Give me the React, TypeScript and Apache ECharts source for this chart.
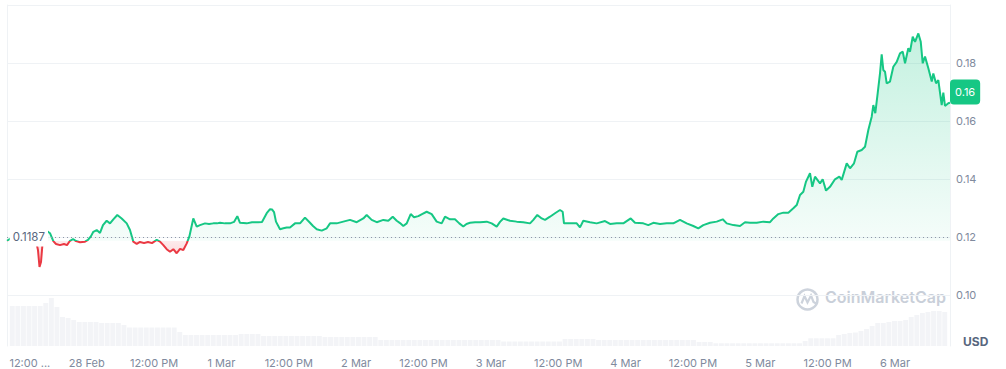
import React, { useEffect, useRef } from 'react';
import * as echarts from 'echarts';

const HOUR = 3600 * 1000;
const START = new Date(2025, 1, 27, 9, 48).getTime();
const END = START + 168 * HOUR;
const FIRST_TICK = new Date(2025, 1, 27, 12, 0).getTime();

const BASE_PRICE = 0.1187;

const X_LABELS = ['12:00 ...', '28 Feb', '12:00 PM', '1 Mar', '12:00 PM', '2 Mar', '12:00 PM', '3 Mar', '12:00 PM', '4 Mar', '12:00 PM', '5 Mar', '12:00 PM', '6 Mar'];

// hours since START
const PRICE_HOURS = [
  0, 0.89, 1.78, 2.67, 3.56, 4.45, 5.17, 5.52, 5.79, 6.06, 6.32, 6.59, 6.89, 7.66, 8.25, 8.73, 9.44, 10.15, 10.69, 11.22,
  11.76, 12.29, 13.01, 13.9, 14.43, 14.97, 15.38, 15.98, 16.57, 17.1, 17.76, 18.35, 18.94, 19.65, 20.43, 21.33, 21.91, 22.5, 23.11, 23.7,
  24.41, 25.12, 25.83, 26.67, 27.26, 27.85, 28.45, 29.04, 29.63, 30.23, 30.82, 31.41, 32.02, 32.48, 33.19, 33.8, 34.38, 35.28, 35.99, 36.75,
  37.41, 37.95, 38.84, 39.73, 40.45, 41.03, 41.51, 42.7, 43.65, 44.72, 45.43, 46.27, 46.86, 47.21, 47.57, 47.92, 48.64, 49.23, 49.83, 50.42,
  51.31, 52.2, 53.09, 53.98, 54.52, 55.18, 56.07, 56.96, 57.55, 58.74, 59.91, 61.11, 62.3, 63.48, 64.08, 64.97, 65.87, 67.04, 67.93, 68.72,
  69.43, 70.02, 70.6, 71.21, 71.92, 72.51, 73.28, 73.94, 74.77, 75.66, 76.55, 77.44, 78.03, 78.92, 79.81, 80.58, 81.29, 81.86, 82.49, 83.38,
  84.27, 85.46, 86.35, 87.24, 87.83, 88.42, 89.61, 90.8, 91.98, 93.18, 93.77, 94.48, 95.26, 95.85, 96.74, 97.63, 98.52, 99.0, 99.23, 100.3,
  101.5, 102.08, 102.67, 103.87, 105.06, 106.54, 107.43, 108.62, 109.8, 111.12, 111.88, 113.36, 114.25, 115.14, 116.34, 117.53, 118.71, 119.9, 121.09, 122.27,
  123.16, 124.05, 125.25, 126.44, 127.51, 128.22, 129.4, 130.59, 131.48, 132.37, 133.57, 134.75, 135.94, 136.53, 137.42, 138.31, 139.2, 140.09, 140.69, 141.28,
  141.87, 142.35, 143.06, 143.47, 143.95, 144.84, 145.32, 145.91, 146.62, 147.51, 148.28, 148.71, 149.6, 150.19, 150.9, 151.49, 152.27, 152.86, 153.45, 154.05,
  154.34, 154.69, 155.12, 155.53, 155.83, 156.12, 156.42, 156.72, 157.31, 157.9, 158.51, 159.09, 159.58, 159.99, 160.57, 160.88, 161.36, 161.77, 162.36, 162.79,
  163.14, 163.55, 164.14, 164.75, 165.03, 165.51, 165.92, 166.52, 166.81, 167.11, 167.7, 168,
];

const PRICES = [
  0.1187, 0.1198, 0.1203, 0.1195, 0.1200, 0.1193, 0.1186, 0.1155, 0.1097, 0.1114, 0.1176, 0.1214, 0.1224, 0.1213, 0.1186, 0.1176, 0.1172, 0.1176, 0.1172, 0.1187,
  0.1193, 0.1186, 0.1182, 0.1184, 0.1190, 0.1203, 0.1218, 0.1224, 0.1214, 0.1241, 0.1256, 0.1247, 0.1261, 0.1276, 0.1264, 0.1247, 0.1224, 0.1184, 0.1176, 0.1183,
  0.1179, 0.1183, 0.1179, 0.1190, 0.1184, 0.1172, 0.1158, 0.1149, 0.1158, 0.1144, 0.1159, 0.1155, 0.1178, 0.1201, 0.1264, 0.1236, 0.1241, 0.1247, 0.1245, 0.1247,
  0.1247, 0.1249, 0.1247, 0.1247, 0.1252, 0.1272, 0.1249, 0.1247, 0.1251, 0.1251, 0.1252, 0.1282, 0.1296, 0.1295, 0.1286, 0.1253, 0.1227, 0.1230, 0.1233, 0.1233,
  0.1247, 0.1247, 0.1267, 0.1249, 0.1238, 0.1227, 0.1222, 0.1230, 0.1247, 0.1247, 0.1253, 0.1259, 0.1251, 0.1264, 0.1276, 0.1259, 0.1251, 0.1259, 0.1256, 0.1270,
  0.1256, 0.1248, 0.1238, 0.1247, 0.1279, 0.1268, 0.1272, 0.1279, 0.1287, 0.1279, 0.1253, 0.1247, 0.1270, 0.1261, 0.1261, 0.1247, 0.1236, 0.1245, 0.1249, 0.1251,
  0.1251, 0.1253, 0.1247, 0.1236, 0.1252, 0.1264, 0.1256, 0.1253, 0.1251, 0.1247, 0.1259, 0.1276, 0.1264, 0.1259, 0.1270, 0.1282, 0.1293, 0.1287, 0.1247, 0.1247,
  0.1247, 0.1233, 0.1256, 0.1251, 0.1247, 0.1255, 0.1245, 0.1247, 0.1247, 0.1264, 0.1249, 0.1247, 0.1241, 0.1249, 0.1245, 0.1247, 0.1247, 0.1259, 0.1247, 0.1238,
  0.1230, 0.1241, 0.1249, 0.1253, 0.1261, 0.1247, 0.1241, 0.1238, 0.1251, 0.1249, 0.1249, 0.1253, 0.1251, 0.1264, 0.1279, 0.1284, 0.1284, 0.1299, 0.1310, 0.1345,
  0.1356, 0.1391, 0.1420, 0.1373, 0.1408, 0.1385, 0.1399, 0.1360, 0.1373, 0.1399, 0.1408, 0.1397, 0.1454, 0.1437, 0.1454, 0.1494, 0.1500, 0.1511, 0.1569, 0.1615,
  0.1655, 0.1627, 0.1696, 0.1764, 0.1830, 0.1776, 0.1770, 0.1730, 0.1736, 0.1787, 0.1804, 0.1833, 0.1839, 0.1799, 0.1851, 0.1839, 0.1891, 0.1873, 0.1902, 0.1873,
  0.1799, 0.1822, 0.1782, 0.1736, 0.1764, 0.1730, 0.1741, 0.1655, 0.1698, 0.1652, 0.1661, 0.1663,
];

// hourly volume (millions USD), one bar per hour from START
const VOLUMES = [
  4.0, 4.0, 4.0, 4.0, 4.0, 4.0, 4.3, 4.8, 3.9, 2.9, 2.8, 2.6, 2.4, 2.4, 2.4, 2.4, 2.3, 2.3, 2.3, 2.3, 2.1, 1.85, 1.85, 1.85,
  1.85, 1.85, 1.85, 1.85, 1.85, 1.85, 1.4, 1.1, 1.1, 1.1, 1.1, 1.1, 1.1, 1.1, 1.1, 1.1, 1.1, 1.2, 1.2, 1.2, 1.2, 1.0, 1.0, 1.0,
  1.0, 1.0, 1.0, 1.0, 1.0, 1.0, 1.0, 1.0, 0.9, 0.9, 0.9, 0.9, 0.9, 0.9, 0.9, 0.9, 0.9, 0.9, 0.6, 0.6, 0.6, 0.6, 0.6, 0.6,
  0.6, 0.6, 0.6, 0.6, 0.6, 0.6, 0.6, 0.6, 0.6, 0.6, 0.6, 0.6, 0.6, 0.6, 0.6, 0.6, 0.45, 0.45, 0.45, 0.45, 0.45, 0.45, 0.45, 0.45,
  0.45, 0.45, 0.45, 0.7, 0.7, 0.7, 0.7, 0.7, 0.7, 0.6, 0.6, 0.6, 0.6, 0.6, 0.6, 0.6, 0.6, 0.6, 0.6, 0.6, 0.6, 0.6, 0.6, 0.6,
  0.6, 0.6, 0.6, 0.4, 0.4, 0.4, 0.27, 0.27, 0.27, 0.27, 0.27, 0.27, 0.27, 0.27, 0.27, 0.27, 0.27, 0.27, 0.27, 0.27, 0.27, 0.27, 0.5, 0.77,
  0.77, 0.77, 0.77, 0.77, 1.1, 1.2, 1.3, 1.35, 1.5, 1.7, 2.0, 2.3, 2.3, 2.4, 2.5, 2.5, 2.6, 2.9, 3.1, 3.3, 3.4, 3.5, 3.5, 3.4,
];

const GREEN = '#16c784';
const RED = '#ea3943';
const LABEL = '#808a9d';
const GRID_LINE = '#eff2f5';

export default function App() {
  const ref = useRef<HTMLDivElement>(null);

  useEffect(() => {
    if (!ref.current) return;
    const chart = echarts.init(ref.current, undefined, { renderer: 'svg' });
    const priceData = PRICE_HOURS.map((h, i) => [START + h * HOUR, PRICES[i]]);
    const volumeData = VOLUMES.map((v, i) => [START + (i + 0.5) * HOUR, v]);
    const maxP = Math.max(...PRICES);
    const minP = Math.min(...PRICES);
    const baseOffset = (maxP - BASE_PRICE) / (maxP - minP);
    const last = PRICES[PRICES.length - 1];
    const lastLabel = (Math.floor(last * 100) / 100).toFixed(2);
    const STEP = 12 * HOUR;

    chart.setOption({
      animation: false,
      backgroundColor: '#ffffff',
      textStyle: { fontFamily: 'Inter, sans-serif' },
      grid: [
        { left: 7, right: 56, top: 5, bottom: 16 },
        { left: 7, right: 56, top: 5, bottom: 23 },
      ],
      xAxis: [
        {
          type: 'time', gridIndex: 0, min: START, max: END,
          minInterval: STEP, maxInterval: STEP, splitNumber: 14,
          axisLine: { show: false }, axisTick: { show: false }, splitLine: { show: false },
          axisLabel: {
            color: LABEL, fontSize: 11, margin: 4, hideOverlap: false,
            formatter: (val: number) => {
              const diff = val - FIRST_TICK;
              if (diff < 0 || diff % STEP !== 0) return '';
              const k = diff / STEP;
              const t = X_LABELS[k] ?? '';
              return k === 0 ? '{first|' + t + '}' : t;
            },
            rich: { first: { padding: [0, 0, 0, 21], color: LABEL, fontSize: 11 } },
          },
        },
        { type: 'time', gridIndex: 1, min: START, max: END, show: false },
      ],
      yAxis: [
        {
          type: 'value', gridIndex: 0, position: 'right', min: 0.08, max: 0.2, interval: 0.02,
          axisLine: { show: false }, axisTick: { show: false },
          splitLine: { show: true, showMinLine: false, lineStyle: { color: GRID_LINE, width: 1 } },
          axisLabel: {
            color: LABEL, fontSize: 11, margin: 6, showMinLabel: false, showMaxLabel: false,
            formatter: (v: number) => v.toFixed(2),
          },
        },
        {
          type: 'value', gridIndex: 1, position: 'left', min: 0, max: 34.1,
          axisLine: { show: true, onZero: false, lineStyle: { color: GRID_LINE } },
          axisTick: { show: false }, axisLabel: { show: false }, splitLine: { show: false },
        },
        {
          type: 'value', gridIndex: 1, position: 'right', min: 0, max: 34.1,
          axisLine: { show: true, onZero: false, lineStyle: { color: GRID_LINE } },
          axisTick: { show: false }, axisLabel: { show: false }, splitLine: { show: false },
        },
      ],
      series: [
        {
          type: 'bar', xAxisIndex: 1, yAxisIndex: 1, data: volumeData,
          barCategoryGap: '12%', itemStyle: { color: '#f3f4f7' }, silent: true, z: 1,
        },
        {
          type: 'line', xAxisIndex: 0, yAxisIndex: 0, data: priceData,
          showSymbol: false, symbol: 'none', z: 3,
          lineStyle: {
            width: 2,
            color: new echarts.graphic.LinearGradient(0, 0, 0, 1, [
              { offset: 0, color: GREEN },
              { offset: baseOffset, color: GREEN },
              { offset: baseOffset, color: RED },
              { offset: 1, color: RED },
            ]),
          },
          areaStyle: {
            origin: BASE_PRICE,
            color: new echarts.graphic.LinearGradient(0, 0, 0, 1, [
              { offset: 0, color: 'rgba(22,199,132,0.36)' },
              { offset: baseOffset, color: 'rgba(22,199,132,0.06)' },
              { offset: baseOffset, color: 'rgba(234,57,67,0.14)' },
              { offset: 1, color: 'rgba(234,57,67,0.38)' },
            ]),
          },
          markLine: {
            silent: true, symbol: ['none', 'none'], animation: false,
            data: [
              {
                yAxis: BASE_PRICE,
                lineStyle: { color: '#8f97a8', type: [1, 3], width: 1 },
                label: {
                  show: true, position: 'start', distance: -41, formatter: String(BASE_PRICE),
                  color: '#58667e', fontSize: 11.5, backgroundColor: '#ffffff', padding: [7, 3, 0, 3],
                },
              },
              {
                yAxis: last,
                lineStyle: { color: 'rgba(0,0,0,0)', width: 0 },
                label: {
                  show: true, position: 'end', distance: 0, formatter: lastLabel,
                  color: '#ffffff', fontSize: 11, lineHeight: 13, backgroundColor: GREEN,
                  padding: [6, 5], borderRadius: 4,
                },
              },
            ],
          },
        },
      ],
      graphic: [
        {
          type: 'text', left: 963, top: 335,
          style: { text: 'USD', fill: '#58667e', font: 'bold 12px Inter, sans-serif' },
        },
        {
          type: 'group', left: 795, top: 287,
          children: [
            { type: 'circle', shape: { cx: 11.5, cy: 11.5, r: 10 }, style: { fill: 'none', stroke: '#cdd3dc', lineWidth: 2.5 } },
            {
              type: 'polyline',
              shape: { points: [[5.5, 15.5], [8.5, 8], [11.5, 14.5], [15, 7.5], [17.5, 14], [21, 16]] },
              style: { fill: 'none', stroke: '#cdd3dc', lineWidth: 2.2 },
            },
          ],
        },
        {
          type: 'text', left: 825, top: 289,
          style: { text: 'CoinMarketCap', fill: '#c9cfd9', font: '600 16px Inter, sans-serif' },
        },
      ],
    });

    return () => chart.dispose();
  }, []);

  return <div ref={ref} style={{ position: 'fixed', left: 0, top: 0, width: 1006, height: 369 }} />;
}
